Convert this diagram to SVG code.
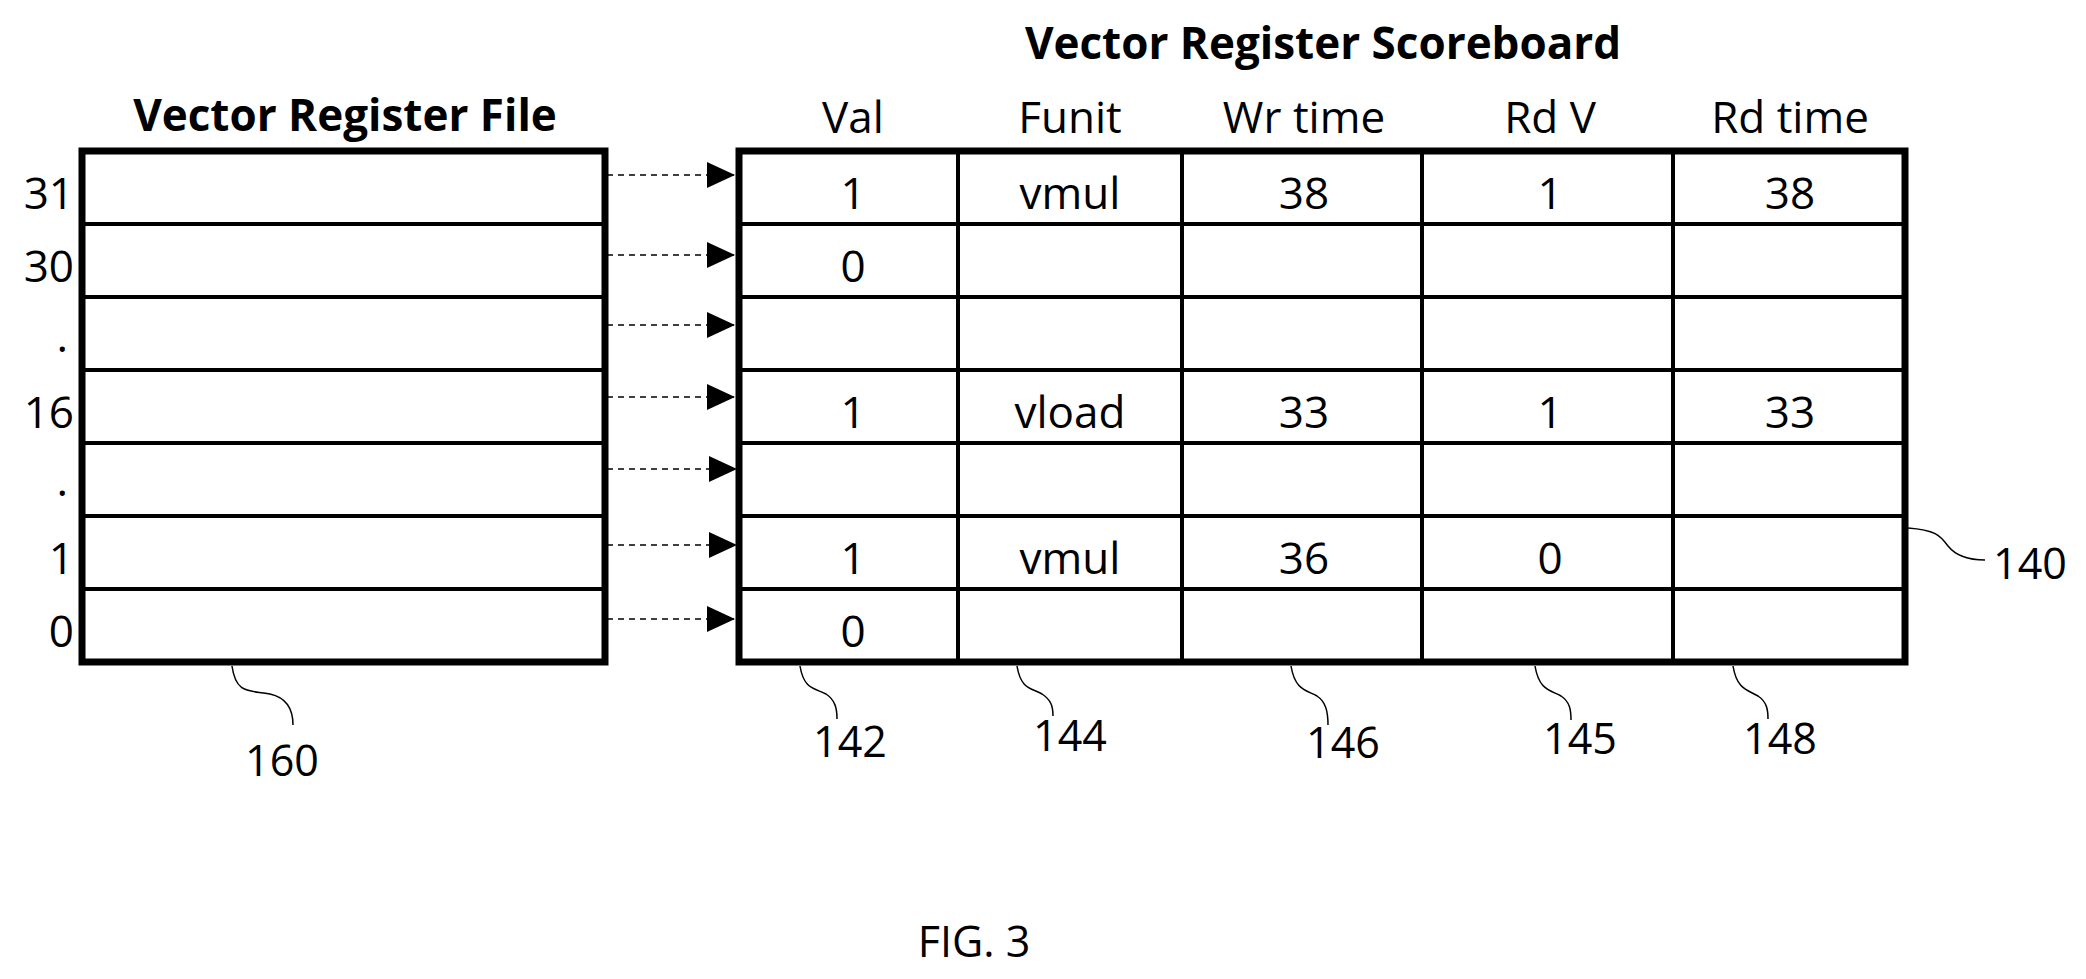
<svg xmlns="http://www.w3.org/2000/svg" width="2086" height="979" viewBox="0 0 2086 979">
<style>
text{font-family:"Open Sans","Liberation Sans",sans-serif;fill:#000}
.t{font-size:44px;font-weight:bold;text-anchor:middle}
.h{font-size:44px;text-anchor:middle}
.c{font-size:44px;text-anchor:middle}
.r{font-size:44px;text-anchor:end}
.n{font-size:43px;text-anchor:middle}
.outer{fill:#fff;stroke:#000;stroke-width:7}
.in{stroke:#000;stroke-width:4}
.dash{stroke:#000;stroke-width:1.6;stroke-dasharray:6 5;fill:none}
.lead{stroke:#000;stroke-width:1.5;fill:none}
</style>
<defs>
<marker id="ah" markerWidth="28" markerHeight="26" refX="28" refY="13" orient="auto" markerUnits="userSpaceOnUse">
<path d="M0,0 L28,13 L0,26 Z" fill="#000"/>
</marker>
</defs>
<g id="vrf">
<text class="t" x="345" y="131">Vector Register File</text>
<rect class="outer" x="82" y="151" width="523" height="511"/>
<g class="in"><line x1="82" y1="224" x2="605" y2="224"/><line x1="82" y1="297" x2="605" y2="297"/><line x1="82" y1="370" x2="605" y2="370"/><line x1="82" y1="443" x2="605" y2="443"/><line x1="82" y1="516" x2="605" y2="516"/><line x1="82" y1="589" x2="605" y2="589"/></g>
<text class="r" x="74" y="209">31</text>
<text class="r" x="74" y="282">30</text>
<text class="r" x="68" y="352">.</text>
<text class="r" x="74" y="428">16</text>
<text class="r" x="68" y="496">.</text>
<text class="r" x="74" y="574">1</text>
<text class="r" x="74" y="647">0</text>
</g>
<g id="vrs">
<text class="t" x="1323" y="59">Vector Register Scoreboard</text>
<text class="h" x="853" y="133">Val</text>
<text class="h" x="1070" y="133">Funit</text>
<text class="h" x="1304" y="133">Wr time</text>
<text class="h" x="1550" y="133">Rd V</text>
<text class="h" x="1790" y="133">Rd time</text>
<rect class="outer" x="739" y="151" width="1166" height="511"/>
<g class="in"><line x1="739" y1="224" x2="1905" y2="224"/><line x1="739" y1="297" x2="1905" y2="297"/><line x1="739" y1="370" x2="1905" y2="370"/><line x1="739" y1="443" x2="1905" y2="443"/><line x1="739" y1="516" x2="1905" y2="516"/><line x1="739" y1="589" x2="1905" y2="589"/>
<line x1="958" y1="151" x2="958" y2="662"/><line x1="1182" y1="151" x2="1182" y2="662"/><line x1="1422" y1="151" x2="1422" y2="662"/><line x1="1673" y1="151" x2="1673" y2="662"/></g>
<text class="c" x="853" y="209">1</text><text class="c" x="1070" y="209">vmul</text><text class="c" x="1304" y="209">38</text><text class="c" x="1550" y="209">1</text><text class="c" x="1790" y="209">38</text>
<text class="c" x="853" y="282">0</text>
<text class="c" x="853" y="428">1</text><text class="c" x="1070" y="428">vload</text><text class="c" x="1304" y="428">33</text><text class="c" x="1550" y="428">1</text><text class="c" x="1790" y="428">33</text>
<text class="c" x="853" y="574">1</text><text class="c" x="1070" y="574">vmul</text><text class="c" x="1304" y="574">36</text><text class="c" x="1550" y="574">0</text>
<text class="c" x="853" y="647">0</text>
</g>
<g id="connectors">
<line class="dash" x1="607" y1="175" x2="735" y2="175" marker-end="url(#ah)"/>
<line class="dash" x1="607" y1="255" x2="735" y2="255" marker-end="url(#ah)"/>
<line class="dash" x1="607" y1="325" x2="735" y2="325" marker-end="url(#ah)"/>
<line class="dash" x1="607" y1="397" x2="735" y2="397" marker-end="url(#ah)"/>
<line class="dash" x1="607" y1="469" x2="737" y2="469" marker-end="url(#ah)"/>
<line class="dash" x1="607" y1="545" x2="737" y2="545" marker-end="url(#ah)"/>
<line class="dash" x1="607" y1="619" x2="735" y2="619" marker-end="url(#ah)"/>
<path class="lead" d="M232,666 C236,695 250,690 270,694 C288,698 293,710 293,725"/>
<path class="lead" d="M800,666 C804,690 815,688 826,694 C835,700 837,708 837,719"/>
<path class="lead" d="M1017,666 C1021,690 1032,688 1042,694 C1051,700 1053,706 1053,716"/>
<path class="lead" d="M1291,666 C1295,690 1306,690 1317,696 C1326,702 1328,712 1328,725"/>
<path class="lead" d="M1535,666 C1539,690 1550,690 1561,696 C1570,702 1571,710 1571,720"/>
<path class="lead" d="M1733,666 C1737,690 1748,690 1758,696 C1767,702 1768,710 1768,719"/>
<path class="lead" d="M1908,528 C1935,530 1940,535 1948,546 C1956,556 1968,560 1985,560"/>
</g>
<g id="labels">
<text class="n" x="282" y="776">160</text>
<text class="n" x="850" y="757">142</text>
<text class="n" x="1070" y="751">144</text>
<text class="n" x="1343" y="758">146</text>
<text class="n" x="1580" y="754">145</text>
<text class="n" x="1780" y="754">148</text>
<text class="n" x="2030" y="579">140</text>
<text class="n" x="974" y="957">FIG. 3</text>
</g>
</svg>
